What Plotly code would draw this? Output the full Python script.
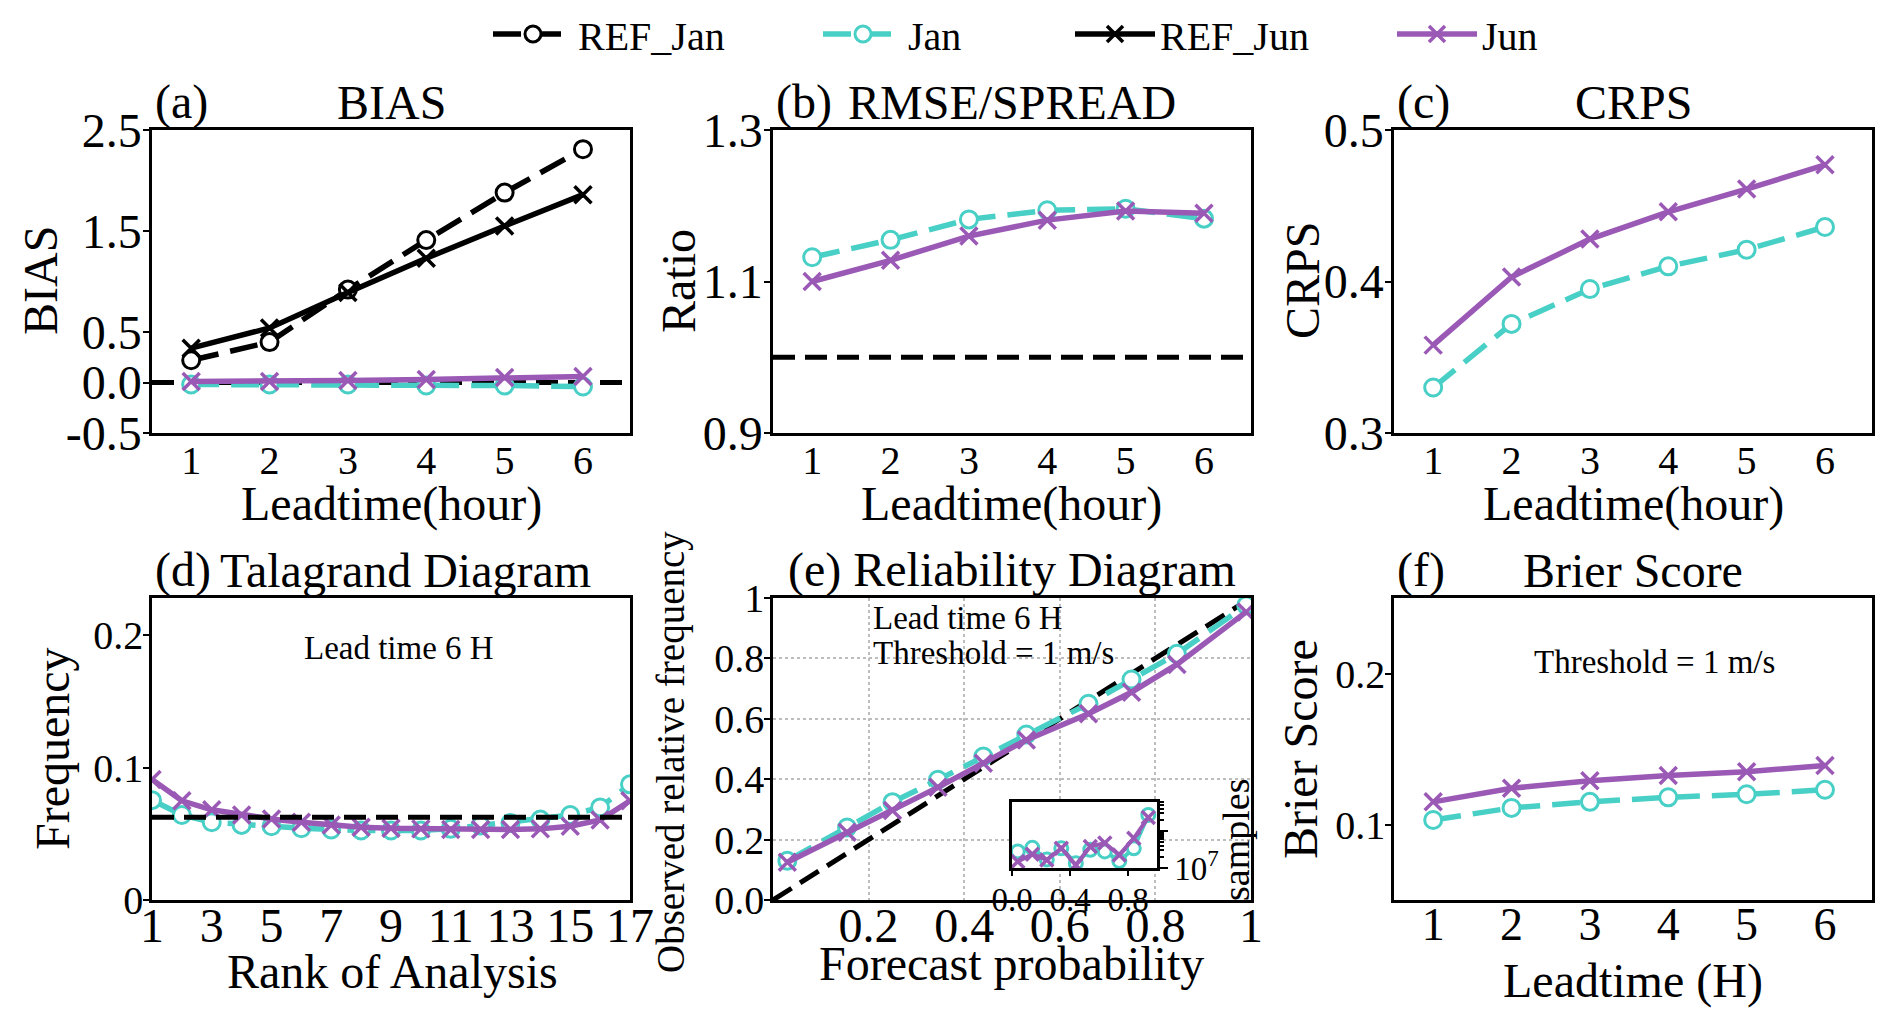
import plotly.graph_objects as go

# ---------------- data ----------------
lead = [1, 2, 3, 4, 5, 6]
bias_ref_jan = [0.22, 0.40, 0.92, 1.41, 1.88, 2.31]
bias_jan = [-0.02, -0.02, -0.02, -0.03, -0.03, -0.04]
bias_ref_jun = [0.34, 0.54, 0.89, 1.23, 1.55, 1.86]
bias_jun = [0.01, 0.01, 0.02, 0.03, 0.05, 0.06]

ratio_jan = [1.132, 1.155, 1.182, 1.194, 1.196, 1.183]
ratio_jun = [1.100, 1.128, 1.160, 1.181, 1.193, 1.190]

crps_jan = [0.330, 0.372, 0.395, 0.410, 0.421, 0.436]
crps_jun = [0.358, 0.403, 0.428, 0.446, 0.461, 0.477]

rank = list(range(1, 18))
tala_jan = [0.0754, 0.0642, 0.0587, 0.0567, 0.0557, 0.0542, 0.0532, 0.0525, 0.0525,
            0.0525, 0.0537, 0.0562, 0.0582, 0.0607, 0.0642, 0.0699, 0.0873]
tala_jun = [0.0910, 0.0749, 0.0681, 0.0642, 0.0612, 0.0587, 0.0567, 0.0550, 0.0542,
            0.0537, 0.0532, 0.0532, 0.0532, 0.0537, 0.0557, 0.0604, 0.0749]
tala_flat = 0.0625

fc_prob = [0.03, 0.155, 0.25, 0.345, 0.44, 0.53, 0.66, 0.75, 0.845, 0.99]
obs_jan = [0.130, 0.240, 0.324, 0.398, 0.475, 0.548, 0.650, 0.730, 0.815, 0.976]
obs_jun = [0.125, 0.224, 0.296, 0.373, 0.453, 0.530, 0.617, 0.688, 0.780, 0.954]
diag = [0, 1]

bins_inset = [0.04, 0.14, 0.24, 0.34, 0.44, 0.54, 0.64, 0.74, 0.84, 0.94]
samples_jan = [2.8e7, 3.5e7, 1.7e7, 3.4e7, 1.35e7, 3.1e7, 2.8e7, 1.55e7, 3.4e7, 2.7e8]
samples_jun = [1.5e7, 2.35e7, 1.65e7, 3.4e7, 1.2e7, 3.8e7, 4.7e7, 2.25e7, 6.3e7, 2.3e8]

bs_jan = [0.103, 0.111, 0.115, 0.118, 0.120, 0.123]
bs_jun = [0.115, 0.124, 0.129, 0.1325, 0.135, 0.139]

# ---------------- style / layout constants ----------------
FONT = "Liberation Serif"
W, H = 1892, 1027
CYAN = "#48CFC6"
PURPLE = "#9B59B6"
BLACK = "black"
COLS = [(152, 630), (773, 1251), (1394, 1872)]
ROWS = [(130, 433), (598, 900)]
INSET = ((1012, 1157), (802, 868))


def xdom(c):
    return [c[0] / W, c[1] / W]


def ydom(r):
    return [1 - r[1] / H, 1 - r[0] / H]


def px(x):
    return x / W


def py(y):
    return 1 - y / H


fig = go.Figure()


def series(x, y, ax, color, dash, symbol, name=None, legend=None, width=5.5, msize=17):
    if symbol == "circle":
        marker = dict(symbol="circle", size=msize, color="white",
                      line=dict(color=color, width=3))
    else:
        marker = dict(symbol="x-thin", size=msize, color=color,
                      line=dict(color=color, width=3.5))
    fig.add_trace(go.Scatter(
        x=x, y=y, xaxis="x" + ax, yaxis="y" + ax, mode="lines+markers",
        line=dict(color=color, width=width, dash=dash), marker=marker,
        name=name, showlegend=name is not None,
        legend=legend if legend else "legend"))


def refline(x, y, ax):
    fig.add_trace(go.Scatter(x=x, y=y, xaxis="x" + ax, yaxis="y" + ax, mode="lines",
                             line=dict(color=BLACK, width=5, dash="22px,10px"),
                             showlegend=False))


DASH = "28px,12px"

# (a) BIAS
refline([0.5, 6.6], [0, 0], "")
series(lead, bias_ref_jan, "", BLACK, DASH, "circle", "REF_Jan", "legend")
series(lead, bias_jan, "", CYAN, DASH, "circle", "Jan", "legend2")
series(lead, bias_ref_jun, "", BLACK, "solid", "x", "REF_Jun", "legend3")
series(lead, bias_jun, "", PURPLE, "solid", "x", "Jun", "legend4")

# (b) RMSE/SPREAD
refline([0.5, 6.6], [1.0, 1.0], "2")
series(lead, ratio_jan, "2", CYAN, DASH, "circle")
series(lead, ratio_jun, "2", PURPLE, "solid", "x")

# (c) CRPS
series(lead, crps_jan, "3", CYAN, DASH, "circle")
series(lead, crps_jun, "3", PURPLE, "solid", "x")

# (d) Talagrand
series(rank, tala_jan, "4", CYAN, DASH, "circle")
series(rank, tala_jun, "4", PURPLE, "solid", "x")
refline([1, 17], [tala_flat, tala_flat], "4")

# (e) Reliability
refline(diag, diag, "5")
series(fc_prob, obs_jan, "5", CYAN, DASH, "circle")
series(fc_prob, obs_jun, "5", PURPLE, "solid", "x")

# inset samples
series(bins_inset, samples_jan, "7", CYAN, "solid", "circle", width=4, msize=13)
series(bins_inset, samples_jun, "7", PURPLE, "solid", "x", width=4, msize=13)

# (f) Brier
series(lead, bs_jan, "6", CYAN, DASH, "circle")
series(lead, bs_jun, "6", PURPLE, "solid", "x")


def axis(dom, rng, tickvals=None, ticktext=None, size=44, ticks="", anchor=None,
         grid=False, standoff=0, **kw):
    d = dict(domain=dom, range=rng, showline=True, mirror=True, linecolor=BLACK,
             linewidth=2.5, zeroline=False, showgrid=grid, ticks=ticks, ticklen=6,
             tickwidth=2, tickcolor=BLACK, automargin=False,
             ticklabelstandoff=standoff,
             tickfont=dict(family=FONT, size=size, color=BLACK), anchor=anchor)
    if grid:
        d.update(gridcolor="#bdbdbd", gridwidth=2, griddash="dot")
    if tickvals is not None:
        d.update(tickmode="array", tickvals=tickvals)
    if ticktext is not None:
        d.update(ticktext=ticktext)
    d.update(kw)
    return d


lay = dict(width=W, height=H, margin=dict(l=0, r=0, t=0, b=0, autoexpand=False),
           paper_bgcolor="white", plot_bgcolor="white",
           font=dict(family=FONT, color=BLACK))

XL = [0.5, 6.6]
SX1, SX2, SY = -10, -18, -8
# row 1
lay["xaxis"] = axis(xdom(COLS[0]), XL, lead, None, 40, anchor="y", standoff=SX1)
lay["yaxis"] = axis(ydom(ROWS[0]), [-0.5, 2.5], [-0.5, 0, 0.5, 1.5, 2.5],
                    ["-0.5", "0.0", "0.5", "1.5", "2.5"], 48, ticks="outside", anchor="x",
                    standoff=SY)
lay["xaxis2"] = axis(xdom(COLS[1]), XL, lead, None, 40, anchor="y2", standoff=SX1)
lay["yaxis2"] = axis(ydom(ROWS[0]), [0.9, 1.3], [0.9, 1.1, 1.3], ["0.9", "1.1", "1.3"], 48,
                     ticks="outside", anchor="x2", standoff=SY)
lay["xaxis3"] = axis(xdom(COLS[2]), XL, lead, None, 40, anchor="y3", standoff=SX1)
lay["yaxis3"] = axis(ydom(ROWS[0]), [0.3, 0.5], [0.3, 0.4, 0.5], ["0.3", "0.4", "0.5"], 48,
                     ticks="outside", anchor="x3", standoff=SY)
# row 2
lay["xaxis4"] = axis(xdom(COLS[0]), [1, 17], list(range(1, 18, 2)), None, 48, anchor="y4",
                     standoff=SX2)
lay["yaxis4"] = axis(ydom(ROWS[1]), [0, 0.228], [0, 0.1, 0.2], ["0", "0.1", "0.2"], 40,
                     ticks="outside", anchor="x4", standoff=SY)
lay["xaxis5"] = axis(xdom(COLS[1]), [0, 1], [0.2, 0.4, 0.6, 0.8, 1.0],
                     ["0.2", "0.4", "0.6", "0.8", "1"], 48, anchor="y5", grid=True,
                     standoff=SX2)
lay["yaxis5"] = axis(ydom(ROWS[1]), [0, 1], [0, 0.2, 0.4, 0.6, 0.8, 1.0],
                     ["0.0", "0.2", "0.4", "0.6", "0.8", "1"], 40, ticks="outside",
                     anchor="x5", grid=True, standoff=SY)
lay["xaxis6"] = axis(xdom(COLS[2]), XL, lead, None, 46, anchor="y6", standoff=SX2)
lay["yaxis6"] = axis(ydom(ROWS[1]), [0.05, 0.25], [0.1, 0.2], ["0.1", "0.2"], 40,
                     ticks="outside", anchor="x6", standoff=SY)
# inset
lay["xaxis7"] = axis(xdom(INSET[0]), [0, 1], [0.0, 0.4, 0.8], ["0.0", "0.4", "0.8"], 33,
                     ticks="outside", anchor="y7", standoff=-4)
minor_vals = [k * 1e7 for k in range(2, 10)] + [k * 1e8 for k in range(2, 7)]
lay["yaxis7"] = axis(ydom(INSET[1]), [7, 8.78], [1e7, 1e8], ["10<sup>7</sup>", " "], 33,
                     ticks="outside", anchor="x7", type="log", side="right",
                     minor=dict(tickmode="array", tickvals=minor_vals, ticks="outside",
                                ticklen=4, tickwidth=1.5, tickcolor=BLACK))
lay["xaxis7"]["ticklen"] = 5
lay["yaxis7"]["ticklen"] = 8

# legends (one per entry for exact placement)
leg_x = [488, 818, 1070, 1392]
for i, lx in enumerate(leg_x):
    key = "legend" if i == 0 else "legend%d" % (i + 1)
    lay[key] = dict(x=px(lx), y=py(34), xanchor="left", yanchor="middle",
                    orientation="h", bgcolor="rgba(0,0,0,0)", itemwidth=80,
                    font=dict(family=FONT, size=40, color=BLACK))

ann = []


def text(s, x, y, size, xanchor="center", yanchor="middle", angle=0):
    ann.append(dict(text=s, x=px(x), y=py(y), xref="paper", yref="paper", showarrow=False,
                    xanchor=xanchor, yanchor=yanchor, textangle=angle,
                    font=dict(family=FONT, size=size, color=BLACK)))


# panel titles
TS = 48
for (lab, ttl, col, row, tx) in [("(a)", "BIAS", 0, 0, None), ("(b)", "RMSE/SPREAD", 1, 0, None),
                                 ("(c)", "CRPS", 2, 0, None), ("(d)", "Talagrand Diagram", 0, 1, 405),
                                 ("(f)", "Brier Score", 2, 1, None)]:
    c = COLS[col]
    r = ROWS[row]
    text(lab, c[0] + 1, r[0] + 1, TS, "left", "bottom")
    text(ttl, tx if tx else (c[0] + c[1]) / 2, r[0] + 1, TS, "center", "bottom")
text("(e) Reliability Diagram", (COLS[1][0] + COLS[1][1]) / 2, ROWS[1][0] + 1, TS,
     "center", "bottom")

# x axis titles
text("Leadtime(hour)", 391, 504, 48)
text("Leadtime(hour)", 1012, 504, 48)
text("Leadtime(hour)", 1633, 504, 48)
text("Rank of Analysis", 392, 971, 48)
text("Forecast probability", 1012, 963, 48)
text("Leadtime (H)", 1633, 981, 48)

# y axis titles
text("BIAS", 40, 281, 48, angle=-90)
text("Ratio", 678, 281, 48, angle=-90)
text("CRPS", 1302, 281, 48, angle=-90)
text("Frequency", 52, 749, 48, angle=-90)
text("Observed relative frequency", 671, 752, 39, angle=-90)
text("Brier Score", 1300, 749, 48, angle=-90)
text("samples", 1236, 840, 38, angle=-90)

# in-panel notes
text("Lead time 6 H", 399, 648, 33)
text("Lead time 6 H", 871, 618, 33, "left")
text("Threshold = 1 m/s", 871, 653, 33, "left")
text("Threshold = 1 m/s", 1654, 662, 33)

lay["annotations"] = ann
fig.update_layout(**lay)

fig.write_html("out.html", config={"displayModeBar": False},
               post_script="document.body.style.margin='0';document.body.style.overflow='hidden';")
